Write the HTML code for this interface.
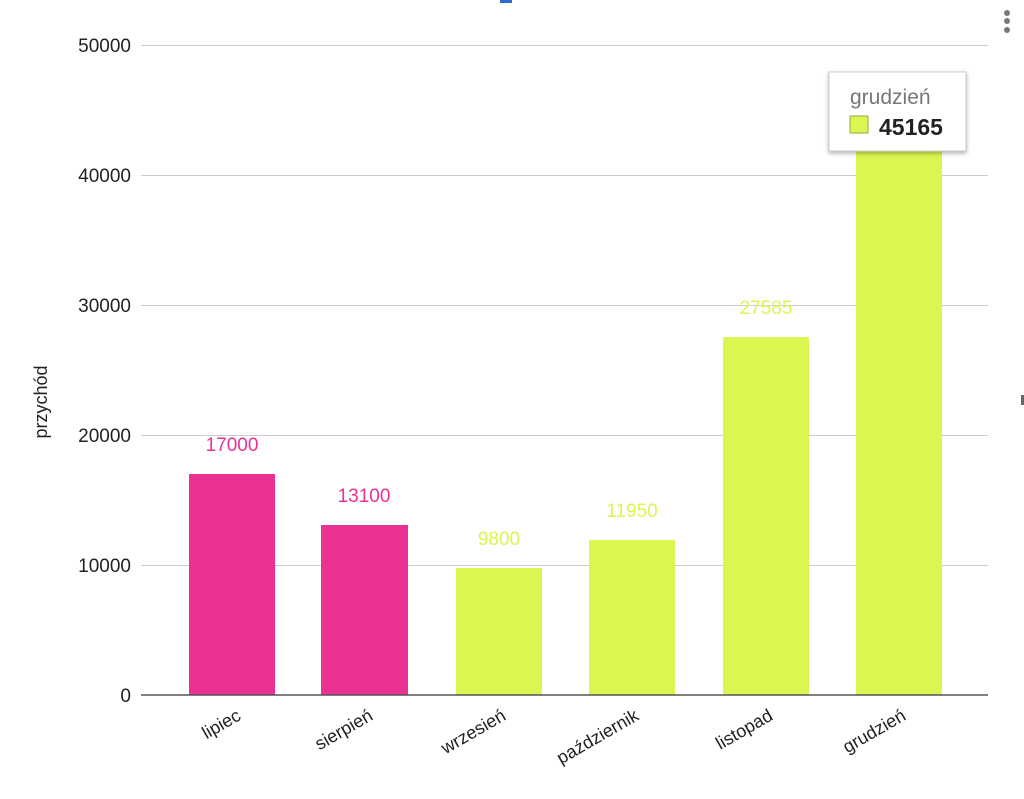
<!DOCTYPE html>
<html><head><meta charset="utf-8"><style>
body{margin:0;background:#fff;width:1024px;height:794px;overflow:hidden;font-family:"Liberation Sans",Arial,sans-serif;}
</style></head><body>
<svg width="1024" height="794" xmlns="http://www.w3.org/2000/svg" font-family="Liberation Sans, Arial, sans-serif">
<rect x="500" y="0" width="12" height="3" fill="#3367d6"/>
<g stroke="#cccccc" stroke-width="1">
<line x1="141" y1="45.5" x2="988" y2="45.5"/>
<line x1="141" y1="175.5" x2="988" y2="175.5"/>
<line x1="141" y1="305.5" x2="988" y2="305.5"/>
<line x1="141" y1="435.5" x2="988" y2="435.5"/>
<line x1="141" y1="565.5" x2="988" y2="565.5"/>
</g>
<g font-size="19" fill="#222" text-anchor="end">
<text x="131" y="52">50000</text>
<text x="131" y="182">40000</text>
<text x="131" y="312">30000</text>
<text x="131" y="442">20000</text>
<text x="131" y="572">10000</text>
<text x="131" y="702">0</text>
</g>
<text transform="translate(47,402) rotate(-90)" font-size="18" fill="#222" text-anchor="middle">przychód</text>
<g>
<rect x="189" y="474" width="86" height="221" fill="#ec3194"/>
<rect x="321" y="525" width="87" height="170" fill="#ec3194"/>
<rect x="456" y="568" width="86" height="127" fill="#dcf651"/>
<rect x="589" y="540" width="86" height="155" fill="#dcf651"/>
<rect x="723" y="337" width="86" height="358" fill="#dcf651"/>
<rect x="856" y="108" width="86" height="587" fill="#dcf651"/>
</g>
<line x1="141" y1="695" x2="988" y2="695" stroke="#555" stroke-width="1.5"/>
<g font-size="19" text-anchor="middle">
<text x="232" y="451" fill="#ec3194">17000</text>
<text x="364" y="502" fill="#ec3194">13100</text>
<text x="499" y="545" fill="#dcf651">9800</text>
<text x="632" y="517" fill="#dcf651">11950</text>
<text x="766" y="314" fill="#dcf651">27585</text>
<text x="899" y="85" fill="#dcf651">45165</text>
</g>
<g font-size="18" fill="#222" text-anchor="end">
<text transform="translate(242,719) rotate(-30)">lipiec</text>
<text transform="translate(374,719) rotate(-30)">sierpień</text>
<text transform="translate(507,719) rotate(-30)">wrzesień</text>
<text transform="translate(640,719) rotate(-30)">październik</text>
<text transform="translate(774,719) rotate(-30)">listopad</text>
<text transform="translate(907,719) rotate(-30)">grudzień</text>
</g>
<defs><filter id="sh" x="-10%" y="-10%" width="130%" height="140%"><feDropShadow dx="0" dy="2" stdDeviation="2" flood-color="#000" flood-opacity="0.3"/></filter></defs>
<rect x="829" y="72" width="137" height="79" fill="#fff" stroke="#ccc" filter="url(#sh)"/>
<text x="850" y="104" font-size="21" fill="#777">grudzień</text>
<rect x="850" y="116" width="18" height="17" fill="#dcf651" stroke="#9aa83a"/>
<text x="879" y="135" font-size="23" font-weight="bold" fill="#222">45165</text>
<g fill="#777"><circle cx="1007" cy="13" r="3"/><circle cx="1007" cy="21" r="3"/><circle cx="1007" cy="30" r="3"/></g>
<rect x="1021" y="395" width="3" height="10" fill="#666"/>
</svg>
</body></html>
